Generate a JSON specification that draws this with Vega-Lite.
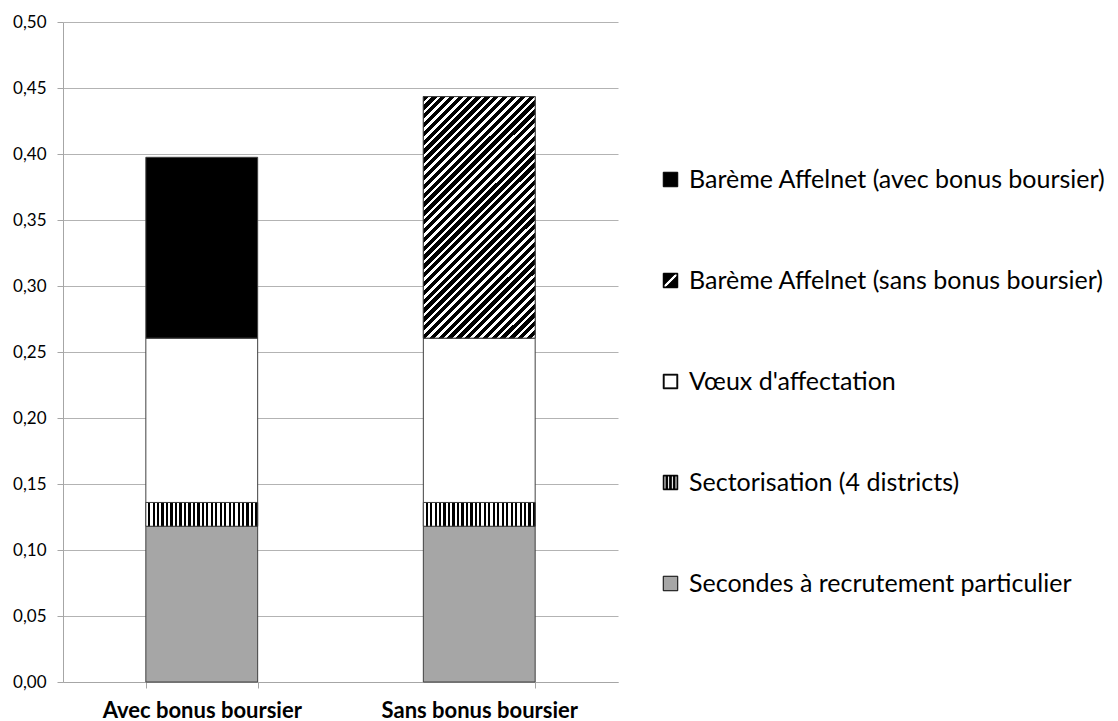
{
  "$schema": "https://vega.github.io/schema/vega-lite/v6.json",
  "width": 555,
  "height": 660,
  "autosize": {"type": "none"},
  "padding": {"left": 63, "top": 22, "right": 500, "bottom": 39},
  "background": "white",
  "config": {"font": "Lato", "view": {"stroke": null}},
  "data": {
    "values": [
      {"scenario": "Avec bonus boursier", "composante": "Secondes à recrutement particulier", "valeur": 0.118, "rang": 1},
      {"scenario": "Avec bonus boursier", "composante": "Sectorisation (4 districts)", "valeur": 0.018, "rang": 2},
      {"scenario": "Avec bonus boursier", "composante": "Vœux d'affectation", "valeur": 0.1245, "rang": 3},
      {"scenario": "Avec bonus boursier", "composante": "Barème Affelnet (avec bonus boursier)", "valeur": 0.137, "rang": 4},
      {"scenario": "Sans bonus boursier", "composante": "Secondes à recrutement particulier", "valeur": 0.118, "rang": 1},
      {"scenario": "Sans bonus boursier", "composante": "Sectorisation (4 districts)", "valeur": 0.018, "rang": 2},
      {"scenario": "Sans bonus boursier", "composante": "Vœux d'affectation", "valeur": 0.1245, "rang": 3},
      {"scenario": "Sans bonus boursier", "composante": "Barème Affelnet (sans bonus boursier)", "valeur": 0.183, "rang": 4}
    ]
  },
  "transform": [
    {"stack": "valeur", "groupby": ["scenario"], "sort": [{"field": "rang", "order": "ascending"}], "as": ["bas", "haut"]}
  ],
  "encoding": {
    "x": {
      "field": "scenario",
      "type": "nominal",
      "sort": ["Avec bonus boursier", "Sans bonus boursier"],
      "scale": {"paddingInner": 0.597, "paddingOuter": 0.2985},
      "axis": {
        "title": null,
        "labelAngle": 0,
        "labelFontWeight": "bold",
        "labelFontSize": 22,
        "labelColor": "#000000",
        "labelPadding": 12,
        "labelLimit": 400,
        "tickBand": "extent",
        "tickSize": 6,
        "tickColor": "#a6a6a6",
        "domainColor": "#a6a6a6",
        "grid": false
      }
    },
    "y": {
      "field": "haut",
      "type": "quantitative",
      "scale": {"domain": [0, 0.5], "nice": false},
      "axis": {
        "title": null,
        "tickCount": 10,
        "labelExpr": "replace(format(datum.value, '.2f'), '.', ',')",
        "labelFontSize": 17,
        "labelColor": "#000000",
        "labelPadding": 11,
        "tickSize": 6,
        "tickColor": "#a6a6a6",
        "domainColor": "#a6a6a6",
        "gridColor": "#b3b3b3",
        "grid": true
      }
    },
    "y2": {"field": "bas"}
  },
  "layer": [
    {
      "mark": {"type": "bar", "stroke": "#404040", "strokeWidth": 1},
      "encoding": {
        "fill": {
          "condition": [
            {"test": "datum.rang === 1", "value": "#a6a6a6"},
            {"test": "datum.rang === 3", "value": "#ffffff"}
          ],
          "value": "#000000"
        }
      }
    },
    {
      "transform": [{"filter": "datum.composante === 'Sectorisation (4 districts)'"}],
      "mark": {
        "type": "bar",
        "stroke": "#404040",
        "strokeWidth": 1,
        "fill": {"gradient": "linear", "x1": 0, "y1": 0, "x2": 1, "y2": 0, "stops": [
          {"offset": 0, "color": "#fff"}, {"offset": 0.02, "color": "#fff"}, {"offset": 0.02, "color": "#000"}, {"offset": 0.04, "color": "#000"},
          {"offset": 0.04, "color": "#fff"}, {"offset": 0.06, "color": "#fff"}, {"offset": 0.06, "color": "#000"}, {"offset": 0.08, "color": "#000"},
          {"offset": 0.08, "color": "#fff"}, {"offset": 0.1, "color": "#fff"}, {"offset": 0.1, "color": "#000"}, {"offset": 0.12, "color": "#000"},
          {"offset": 0.12, "color": "#fff"}, {"offset": 0.14, "color": "#fff"}, {"offset": 0.14, "color": "#000"}, {"offset": 0.16, "color": "#000"},
          {"offset": 0.16, "color": "#fff"}, {"offset": 0.18, "color": "#fff"}, {"offset": 0.18, "color": "#000"}, {"offset": 0.2, "color": "#000"},
          {"offset": 0.2, "color": "#fff"}, {"offset": 0.22, "color": "#fff"}, {"offset": 0.22, "color": "#000"}, {"offset": 0.24, "color": "#000"},
          {"offset": 0.24, "color": "#fff"}, {"offset": 0.26, "color": "#fff"}, {"offset": 0.26, "color": "#000"}, {"offset": 0.28, "color": "#000"},
          {"offset": 0.28, "color": "#fff"}, {"offset": 0.3, "color": "#fff"}, {"offset": 0.3, "color": "#000"}, {"offset": 0.32, "color": "#000"},
          {"offset": 0.32, "color": "#fff"}, {"offset": 0.34, "color": "#fff"}, {"offset": 0.34, "color": "#000"}, {"offset": 0.36, "color": "#000"},
          {"offset": 0.36, "color": "#fff"}, {"offset": 0.38, "color": "#fff"}, {"offset": 0.38, "color": "#000"}, {"offset": 0.4, "color": "#000"},
          {"offset": 0.4, "color": "#fff"}, {"offset": 0.42, "color": "#fff"}, {"offset": 0.42, "color": "#000"}, {"offset": 0.44, "color": "#000"},
          {"offset": 0.44, "color": "#fff"}, {"offset": 0.46, "color": "#fff"}, {"offset": 0.46, "color": "#000"}, {"offset": 0.48, "color": "#000"},
          {"offset": 0.48, "color": "#fff"}, {"offset": 0.5, "color": "#fff"}, {"offset": 0.5, "color": "#000"}, {"offset": 0.52, "color": "#000"},
          {"offset": 0.52, "color": "#fff"}, {"offset": 0.54, "color": "#fff"}, {"offset": 0.54, "color": "#000"}, {"offset": 0.56, "color": "#000"},
          {"offset": 0.56, "color": "#fff"}, {"offset": 0.58, "color": "#fff"}, {"offset": 0.58, "color": "#000"}, {"offset": 0.6, "color": "#000"},
          {"offset": 0.6, "color": "#fff"}, {"offset": 0.62, "color": "#fff"}, {"offset": 0.62, "color": "#000"}, {"offset": 0.64, "color": "#000"},
          {"offset": 0.64, "color": "#fff"}, {"offset": 0.66, "color": "#fff"}, {"offset": 0.66, "color": "#000"}, {"offset": 0.68, "color": "#000"},
          {"offset": 0.68, "color": "#fff"}, {"offset": 0.7, "color": "#fff"}, {"offset": 0.7, "color": "#000"}, {"offset": 0.72, "color": "#000"},
          {"offset": 0.72, "color": "#fff"}, {"offset": 0.74, "color": "#fff"}, {"offset": 0.74, "color": "#000"}, {"offset": 0.76, "color": "#000"},
          {"offset": 0.76, "color": "#fff"}, {"offset": 0.78, "color": "#fff"}, {"offset": 0.78, "color": "#000"}, {"offset": 0.8, "color": "#000"},
          {"offset": 0.8, "color": "#fff"}, {"offset": 0.82, "color": "#fff"}, {"offset": 0.82, "color": "#000"}, {"offset": 0.84, "color": "#000"},
          {"offset": 0.84, "color": "#fff"}, {"offset": 0.86, "color": "#fff"}, {"offset": 0.86, "color": "#000"}, {"offset": 0.88, "color": "#000"},
          {"offset": 0.88, "color": "#fff"}, {"offset": 0.9, "color": "#fff"}, {"offset": 0.9, "color": "#000"}, {"offset": 0.92, "color": "#000"},
          {"offset": 0.92, "color": "#fff"}, {"offset": 0.94, "color": "#fff"}, {"offset": 0.94, "color": "#000"}, {"offset": 0.96, "color": "#000"},
          {"offset": 0.96, "color": "#fff"}, {"offset": 0.98, "color": "#fff"}, {"offset": 0.98, "color": "#000"}, {"offset": 1, "color": "#000"}
        ]}
      }
    },
    {
      "transform": [{"filter": "datum.composante === 'Barème Affelnet (sans bonus boursier)'"}],
      "mark": {
        "type": "bar",
        "stroke": "#404040",
        "strokeWidth": 1,
        "fill": {"gradient": "linear", "x1": 0, "y1": 0, "x2": 0.557, "y2": 1.205, "stops": [
          {"offset": 0, "color": "#000"}, {"offset": 0.015, "color": "#000"}, {"offset": 0.015, "color": "#fff"}, {"offset": 0.025, "color": "#fff"},
          {"offset": 0.025, "color": "#000"}, {"offset": 0.04, "color": "#000"}, {"offset": 0.04, "color": "#fff"}, {"offset": 0.05, "color": "#fff"},
          {"offset": 0.05, "color": "#000"}, {"offset": 0.065, "color": "#000"}, {"offset": 0.065, "color": "#fff"}, {"offset": 0.075, "color": "#fff"},
          {"offset": 0.075, "color": "#000"}, {"offset": 0.09, "color": "#000"}, {"offset": 0.09, "color": "#fff"}, {"offset": 0.1, "color": "#fff"},
          {"offset": 0.1, "color": "#000"}, {"offset": 0.115, "color": "#000"}, {"offset": 0.115, "color": "#fff"}, {"offset": 0.125, "color": "#fff"},
          {"offset": 0.125, "color": "#000"}, {"offset": 0.14, "color": "#000"}, {"offset": 0.14, "color": "#fff"}, {"offset": 0.15, "color": "#fff"},
          {"offset": 0.15, "color": "#000"}, {"offset": 0.165, "color": "#000"}, {"offset": 0.165, "color": "#fff"}, {"offset": 0.175, "color": "#fff"},
          {"offset": 0.175, "color": "#000"}, {"offset": 0.19, "color": "#000"}, {"offset": 0.19, "color": "#fff"}, {"offset": 0.2, "color": "#fff"},
          {"offset": 0.2, "color": "#000"}, {"offset": 0.215, "color": "#000"}, {"offset": 0.215, "color": "#fff"}, {"offset": 0.225, "color": "#fff"},
          {"offset": 0.225, "color": "#000"}, {"offset": 0.24, "color": "#000"}, {"offset": 0.24, "color": "#fff"}, {"offset": 0.25, "color": "#fff"},
          {"offset": 0.25, "color": "#000"}, {"offset": 0.265, "color": "#000"}, {"offset": 0.265, "color": "#fff"}, {"offset": 0.275, "color": "#fff"},
          {"offset": 0.275, "color": "#000"}, {"offset": 0.29, "color": "#000"}, {"offset": 0.29, "color": "#fff"}, {"offset": 0.3, "color": "#fff"},
          {"offset": 0.3, "color": "#000"}, {"offset": 0.315, "color": "#000"}, {"offset": 0.315, "color": "#fff"}, {"offset": 0.325, "color": "#fff"},
          {"offset": 0.325, "color": "#000"}, {"offset": 0.34, "color": "#000"}, {"offset": 0.34, "color": "#fff"}, {"offset": 0.35, "color": "#fff"},
          {"offset": 0.35, "color": "#000"}, {"offset": 0.365, "color": "#000"}, {"offset": 0.365, "color": "#fff"}, {"offset": 0.375, "color": "#fff"},
          {"offset": 0.375, "color": "#000"}, {"offset": 0.39, "color": "#000"}, {"offset": 0.39, "color": "#fff"}, {"offset": 0.4, "color": "#fff"},
          {"offset": 0.4, "color": "#000"}, {"offset": 0.415, "color": "#000"}, {"offset": 0.415, "color": "#fff"}, {"offset": 0.425, "color": "#fff"},
          {"offset": 0.425, "color": "#000"}, {"offset": 0.44, "color": "#000"}, {"offset": 0.44, "color": "#fff"}, {"offset": 0.45, "color": "#fff"},
          {"offset": 0.45, "color": "#000"}, {"offset": 0.465, "color": "#000"}, {"offset": 0.465, "color": "#fff"}, {"offset": 0.475, "color": "#fff"},
          {"offset": 0.475, "color": "#000"}, {"offset": 0.49, "color": "#000"}, {"offset": 0.49, "color": "#fff"}, {"offset": 0.5, "color": "#fff"},
          {"offset": 0.5, "color": "#000"}, {"offset": 0.515, "color": "#000"}, {"offset": 0.515, "color": "#fff"}, {"offset": 0.525, "color": "#fff"},
          {"offset": 0.525, "color": "#000"}, {"offset": 0.54, "color": "#000"}, {"offset": 0.54, "color": "#fff"}, {"offset": 0.55, "color": "#fff"},
          {"offset": 0.55, "color": "#000"}, {"offset": 0.565, "color": "#000"}, {"offset": 0.565, "color": "#fff"}, {"offset": 0.575, "color": "#fff"},
          {"offset": 0.575, "color": "#000"}, {"offset": 0.59, "color": "#000"}, {"offset": 0.59, "color": "#fff"}, {"offset": 0.6, "color": "#fff"},
          {"offset": 0.6, "color": "#000"}, {"offset": 0.615, "color": "#000"}, {"offset": 0.615, "color": "#fff"}, {"offset": 0.625, "color": "#fff"},
          {"offset": 0.625, "color": "#000"}, {"offset": 0.64, "color": "#000"}, {"offset": 0.64, "color": "#fff"}, {"offset": 0.65, "color": "#fff"},
          {"offset": 0.65, "color": "#000"}, {"offset": 0.665, "color": "#000"}, {"offset": 0.665, "color": "#fff"}, {"offset": 0.675, "color": "#fff"},
          {"offset": 0.675, "color": "#000"}, {"offset": 0.69, "color": "#000"}, {"offset": 0.69, "color": "#fff"}, {"offset": 0.7, "color": "#fff"},
          {"offset": 0.7, "color": "#000"}, {"offset": 0.715, "color": "#000"}, {"offset": 0.715, "color": "#fff"}, {"offset": 0.725, "color": "#fff"},
          {"offset": 0.725, "color": "#000"}, {"offset": 0.74, "color": "#000"}, {"offset": 0.74, "color": "#fff"}, {"offset": 0.75, "color": "#fff"},
          {"offset": 0.75, "color": "#000"}, {"offset": 0.765, "color": "#000"}, {"offset": 0.765, "color": "#fff"}, {"offset": 0.775, "color": "#fff"},
          {"offset": 0.775, "color": "#000"}, {"offset": 0.79, "color": "#000"}, {"offset": 0.79, "color": "#fff"}, {"offset": 0.8, "color": "#fff"},
          {"offset": 0.8, "color": "#000"}, {"offset": 0.815, "color": "#000"}, {"offset": 0.815, "color": "#fff"}, {"offset": 0.825, "color": "#fff"},
          {"offset": 0.825, "color": "#000"}, {"offset": 0.84, "color": "#000"}, {"offset": 0.84, "color": "#fff"}, {"offset": 0.85, "color": "#fff"},
          {"offset": 0.85, "color": "#000"}, {"offset": 0.865, "color": "#000"}, {"offset": 0.865, "color": "#fff"}, {"offset": 0.875, "color": "#fff"},
          {"offset": 0.875, "color": "#000"}, {"offset": 0.89, "color": "#000"}, {"offset": 0.89, "color": "#fff"}, {"offset": 0.9, "color": "#fff"},
          {"offset": 0.9, "color": "#000"}, {"offset": 0.915, "color": "#000"}, {"offset": 0.915, "color": "#fff"}, {"offset": 0.925, "color": "#fff"},
          {"offset": 0.925, "color": "#000"}, {"offset": 0.94, "color": "#000"}, {"offset": 0.94, "color": "#fff"}, {"offset": 0.95, "color": "#fff"},
          {"offset": 0.95, "color": "#000"}, {"offset": 0.965, "color": "#000"}, {"offset": 0.965, "color": "#fff"}, {"offset": 0.975, "color": "#fff"},
          {"offset": 0.975, "color": "#000"}, {"offset": 0.99, "color": "#000"}, {"offset": 0.99, "color": "#fff"}, {"offset": 1, "color": "#fff"}
        ]}
      }
    },
    {
      "mark": {"type": "point", "filled": true, "opacity": 0, "strokeWidth": 1},
      "encoding": {
        "fill": {
          "field": "composante",
          "type": "nominal",
          "scale": {
            "domain": [
              "Barème Affelnet (avec bonus boursier)",
              "Barème Affelnet (sans bonus boursier)",
              "Vœux d'affectation",
              "Sectorisation (4 districts)",
              "Secondes à recrutement particulier"
            ],
            "range": ["#000000", "#000000", "#000000", "#000000", "#a6a6a6"]
          },
          "legend": {
            "orient": "none",
            "legendX": 595,
            "legendY": 145,
            "title": null,
            "padding": 0,
            "symbolSize": 210,
            "symbolStrokeWidth": 1,
            "symbolOpacity": 1,
            "labelFontSize": 25,
            "labelColor": "#000000",
            "labelOffset": 6,
            "labelLimit": 700,
            "rowPadding": 75
          }
        },
        "stroke": {
          "field": "composante",
          "type": "nominal",
          "scale": {
            "domain": [
              "Barème Affelnet (avec bonus boursier)",
              "Barème Affelnet (sans bonus boursier)",
              "Vœux d'affectation",
              "Sectorisation (4 districts)",
              "Secondes à recrutement particulier"
            ],
            "range": ["#000000", "#000000", "#000000", "#000000", "#000000"]
          },
          "legend": {
            "orient": "none",
            "legendX": 595,
            "legendY": 145,
            "title": null,
            "padding": 0,
            "symbolSize": 210,
            "symbolStrokeWidth": 1,
            "symbolOpacity": 1,
            "labelFontSize": 25,
            "labelColor": "#000000",
            "labelOffset": 6,
            "labelLimit": 700,
            "rowPadding": 75
          }
        },
        "shape": {
          "field": "composante",
          "type": "nominal",
          "scale": {
            "domain": [
              "Barème Affelnet (avec bonus boursier)",
              "Barème Affelnet (sans bonus boursier)",
              "Vœux d'affectation",
              "Sectorisation (4 districts)",
              "Secondes à recrutement particulier"
            ],
            "range": [
              "square",
              "M-1,-1H1V1H-1Z M-0.9,-0.9V0.9H0.9V-0.9Z M-0.9,-0.9H0.6L-0.9,0.6Z M0.9,0.9H-0.6L0.9,-0.6Z",
              "M-1,-1H1V1H-1Z M-0.88,-0.88V0.88H0.88V-0.88Z",
              "M-1,-1H1V1H-1Z M-0.9,-0.9V0.9H0.9V-0.9Z M-0.62,-0.9H-0.4V0.9H-0.62Z M-0.11,-0.9H0.11V0.9H-0.11Z M0.4,-0.9H0.62V0.9H0.4Z",
              "square"
            ]
          },
          "legend": {
            "orient": "none",
            "legendX": 595,
            "legendY": 145,
            "title": null,
            "padding": 0,
            "symbolSize": 210,
            "symbolStrokeWidth": 1,
            "symbolOpacity": 1,
            "labelFontSize": 25,
            "labelColor": "#000000",
            "labelOffset": 6,
            "labelLimit": 700,
            "rowPadding": 75
          }
        }
      }
    }
  ]
}
